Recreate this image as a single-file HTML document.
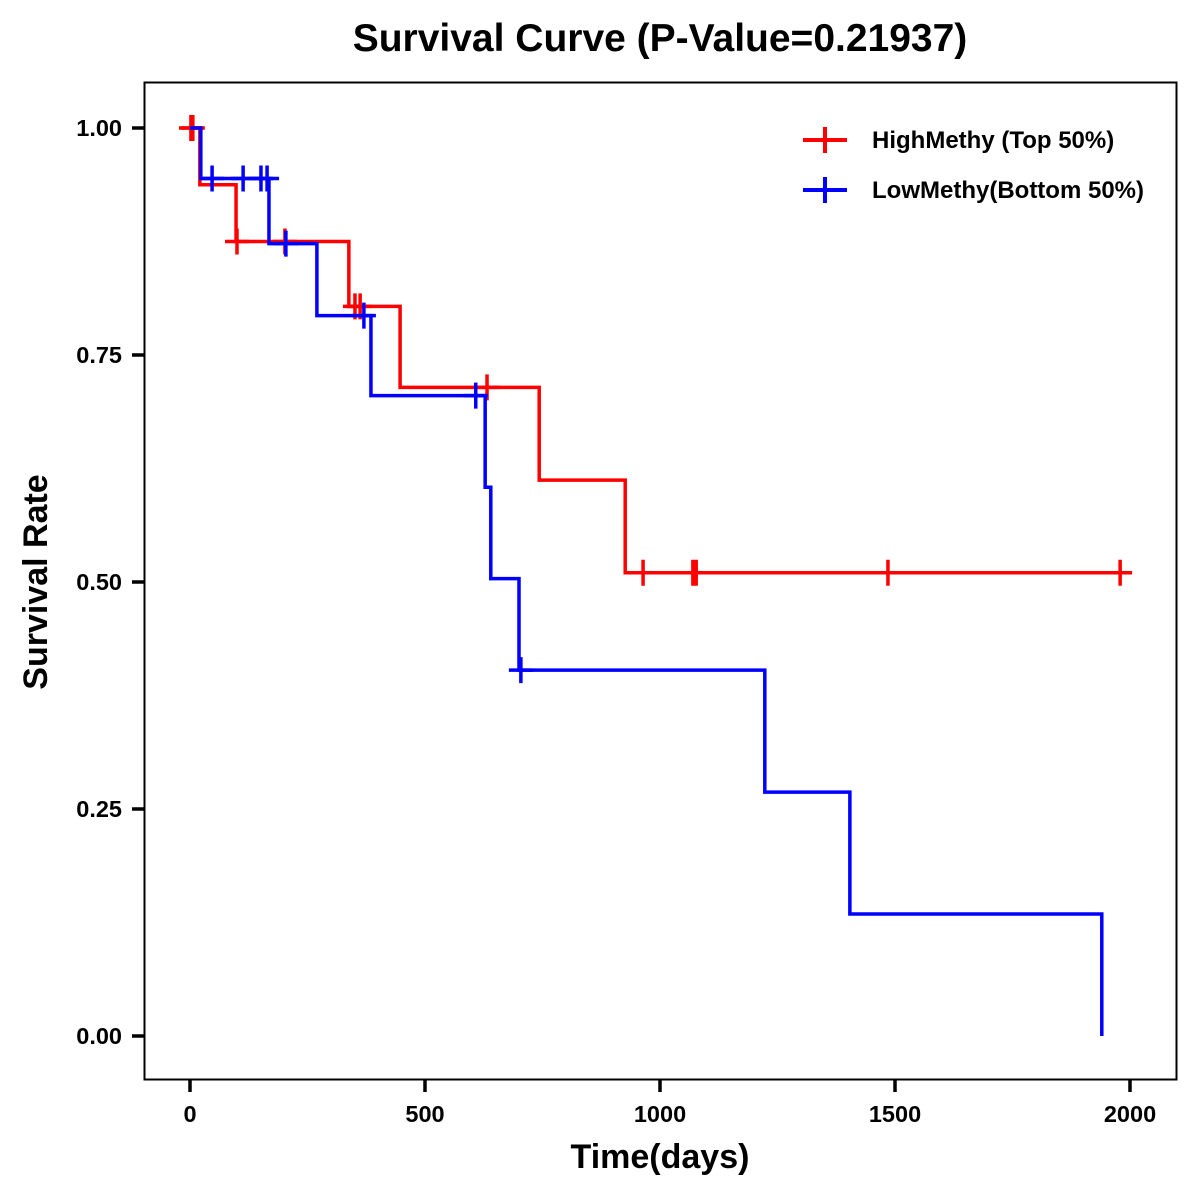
<!DOCTYPE html>
<html><head><meta charset="utf-8"><style>
html,body{margin:0;padding:0;background:#fff;}
svg{display:block;font-family:"Liberation Sans",Arial,sans-serif;}
</style></head><body>
<svg id="chart" width="1200" height="1200" viewBox="0 0 1200 1200">
<rect x="0" y="0" width="1200" height="1200" fill="#fff"/>
<text x="660" y="51" text-anchor="middle" font-size="39" font-weight="bold">Survival Curve (P-Value=0.21937)</text>
<rect x="144.5" y="82.5" width="1032" height="997" fill="none" stroke="#000" stroke-width="2"/>
<g id="axes"></g>
<g id="series"></g>
<text x="660" y="1168" text-anchor="middle" font-size="34" font-weight="bold">Time(days)</text>
<text transform="translate(47,582) rotate(-90)" text-anchor="middle" font-size="34" font-weight="bold">Survival Rate</text>
<g>
  <g>
    <line x1="803" y1="140" x2="847" y2="140" stroke="#ff0000" stroke-width="4"/>
    <line x1="825" y1="127" x2="825" y2="153" stroke="#ff0000" stroke-width="4"/>
    <text x="872" y="148" font-size="24" font-weight="bold">HighMethy (Top 50%)</text>
  </g>
  <g>
    <line x1="803" y1="190" x2="847" y2="190" stroke="#0000ff" stroke-width="4"/>
    <line x1="825" y1="177" x2="825" y2="203" stroke="#0000ff" stroke-width="4"/>
    <text x="872" y="198" font-size="24" font-weight="bold">LowMethy(Bottom 50%)</text>
  </g>
</g>
</svg>
<script>
const xTicks = [0, 500, 1000, 1500, 2000];
const yTicks = [0, 0.25, 0.5, 0.75, 1.0];
const yTickLabels = ["0.00", "0.25", "0.50", "0.75", "1.00"];
const highTimes = [0, 21, 98, 338, 447, 743, 926];
const highSurv = [1.0, 0.9375, 0.875, 0.8036, 0.7143, 0.6122, 0.5102];
const highCensor = [2, 6, 100, 202, 351, 362, 632, 964, 1070, 1077, 1485, 1979];
const highEnd = 1979;
const lowTimes = [0, 23, 168, 270, 385, 628, 640, 700, 1223, 1404, 1940];
const lowSurv = [1.0, 0.9444, 0.8727, 0.7934, 0.7052, 0.6044, 0.5037, 0.4029, 0.2686, 0.1343, 0.0];
const lowCensor = [47, 113, 151, 164, 204, 370, 608, 704];
const lowEnd = 1940;

const NS = "http://www.w3.org/2000/svg";
function xs(t){ return 190 + t * 0.47; }
function ys(v){ return 1036 - v * 908; }
function mk(tag, attrs, parent){
  const e = document.createElementNS(NS, tag);
  for (const k in attrs) e.setAttribute(k, attrs[k]);
  parent.appendChild(e); return e;
}
const axes = document.getElementById('axes');
xTicks.forEach(function(t){
  const l = mk('line', {x1: xs(t), x2: xs(t), y1: 1080, y2: 1092, stroke: '#000', 'stroke-width': 3.5}, axes);
  
  
  const tx = mk('text', {x: xs(t), y: 1122, 'text-anchor': 'middle', 'font-size': 23.5, 'font-weight': 'bold'}, axes);
  tx.textContent = String(t);
  
  
});
yTicks.forEach(function(v, i){
  const l = mk('line', {x1: 132, x2: 144, y1: ys(v), y2: ys(v), stroke: '#000', 'stroke-width': 3.5}, axes);
  
  
  const tx = mk('text', {x: 122, y: ys(v) + 8, 'text-anchor': 'end', 'font-size': 23.5, 'font-weight': 'bold'}, axes);
  tx.textContent = yTickLabels[i];
  
  
});

function survAt(times, surv, t){
  let s = surv[0];
  for (let i = 0; i < times.length; i++) if (times[i] <= t) s = surv[i];
  return s;
}
const series = document.getElementById('series');
function drawSeries(times, surv, censor, end, color, name){
  const g = mk('g', {}, series);
  
  
  let d = 'M' + xs(times[0]) + ',' + ys(surv[0]);
  for (let i = 1; i < times.length; i++){
    d += ' H' + xs(times[i]) + ' V' + ys(surv[i]);
  }
  d += ' H' + xs(end);
  const p = mk('path', {d: d, fill: 'none', stroke: color, 'stroke-width': 3.5, 'stroke-linejoin': 'miter'}, g);
  
  
  censor.forEach(function(t){
    const s = survAt(times, surv, t);
    const cx = xs(t), cy = ys(s);
    const c = mk('path', {d: 'M' + (cx - 12) + ',' + cy + ' H' + (cx + 12) + ' M' + cx + ',' + (cy - 13) + ' V' + (cy + 13), stroke: color, 'stroke-width': 3.5, fill: 'none'}, g);
    
    
  });
}
drawSeries(highTimes, highSurv, highCensor, highEnd, '#ff0000', 'high-methy-curve');
drawSeries(lowTimes, lowSurv, lowCensor, lowEnd, '#0000ff', 'low-methy-curve');
</script>
</body></html>
